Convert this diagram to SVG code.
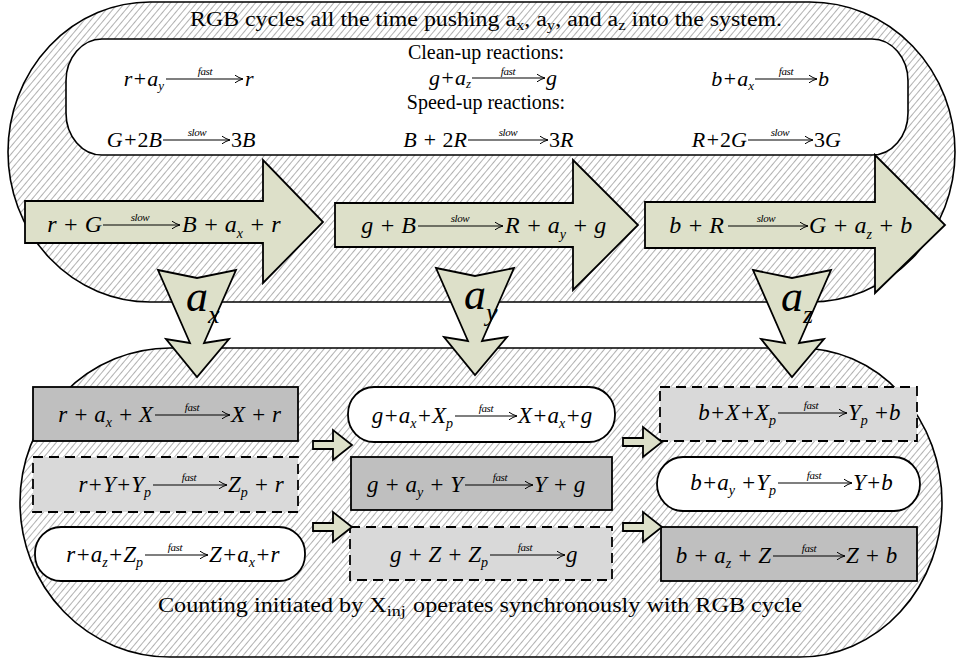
<svg xmlns="http://www.w3.org/2000/svg" width="960" height="664" viewBox="0 0 960 664">
<defs>
<pattern id="hatch" patternUnits="userSpaceOnUse" width="5" height="5" patternTransform="rotate(40)">
<rect width="5" height="5" fill="#fff"/>
<line x1="2.5" y1="0" x2="2.5" y2="5" stroke="#a8a8a8" stroke-width="0.9"/>
</pattern>
<marker id="ah" markerUnits="userSpaceOnUse" markerWidth="12" markerHeight="12" refX="9" refY="5" orient="auto" overflow="visible">
<path d="M1,1.2 Q5,4 9,5 Q5,6 1,8.8" fill="none" stroke="#000" stroke-width="1"/>
</marker>
<path id="down" d="M-39,0 L0,8 L39,0 L7,73 L32,69 L0,107 L-31,69 L-7,73 Z"/>
<path id="sm" d="M0,-4 H20 V-15 L39,0 L20,15 V4 H0 Z"/>
</defs>
<style>
.shape{fill:url(#hatch);stroke:#000;stroke-width:1.6}
.blk{fill:#dde0c9;stroke:#000;stroke-width:1.8}
.box{stroke:#000;stroke-width:1.8}
.dark{fill:#bfbfbf}
.light{fill:#d9d9d9;stroke-dasharray:10 6}
.white{fill:#fff}
.eq{font-family:"Liberation Serif",serif;font-style:italic;fill:#000}
.e22{font-size:22px}
.e23{font-size:23px}
.e24{font-size:24px}
.s13{font-size:13px}
.s14{font-size:14px}
.up{font-style:normal}
.rm{font-family:"Liberation Serif",serif;font-size:20px;fill:#000}
.lbl{font-family:"Liberation Serif",serif;font-style:italic;font-size:11px;text-anchor:middle;letter-spacing:-0.4px}
.ar{stroke:#000;stroke-width:1.1;fill:none;marker-end:url(#ah)}
</style>

<g id="rgb-cycle">
<path class="shape" d="M150,2 H810 A145,150 0 0 1 810,302 H150 A142,150 0 0 1 150,2 Z"/>
<text class="rm" x="190" y="26" font-size="23" textLength="592" lengthAdjust="spacingAndGlyphs">RGB cycles all the time pushing a<tspan font-size="14" dy="4">x</tspan><tspan dy="-4">, a</tspan><tspan font-size="14" dy="4">y</tspan><tspan dy="-4">, and a</tspan><tspan font-size="14" dy="4">z</tspan><tspan dy="-4"> into the system.</tspan></text>
</g>

<g id="reactions-box">
<rect class="white" x="66" y="39" width="842" height="116" rx="36" ry="42" stroke="#000" stroke-width="1.6"/>
<text class="rm" x="486" y="59" text-anchor="middle">Clean-up reactions:</text>
<text class="rm" x="486" y="109" text-anchor="middle">Speed-up reactions:</text>
<text class="eq e22" x="164" y="86" text-anchor="end">r+a<tspan class="s13" dy="4">y</tspan></text>
<line class="ar" x1="166" y1="79" x2="243" y2="79"/>
<text class="lbl" x="205" y="75">fast</text>
<text class="eq e22" x="245" y="86">r</text>
<text class="eq e22" x="162" y="147" text-anchor="end">G+<tspan class="up">2</tspan>B</text>
<line class="ar" x1="163" y1="140" x2="230" y2="140"/>
<text class="lbl" x="197" y="136">slow</text>
<text class="eq e22" x="231" y="147"><tspan class="up">3</tspan>B</text>
<text class="eq e22" x="471" y="85" text-anchor="end">g+a<tspan class="s13" dy="3">z</tspan></text>
<line class="ar" x1="472" y1="78" x2="545" y2="78"/>
<text class="lbl" x="508" y="75">fast</text>
<text class="eq e22" x="546" y="85">g</text>
<text class="eq e22" x="467" y="147" text-anchor="end">B + <tspan class="up">2</tspan>R</text>
<line class="ar" x1="468" y1="140" x2="548" y2="140"/>
<text class="lbl" x="508" y="136">slow</text>
<text class="eq e22" x="549" y="147"><tspan class="up">3</tspan>R</text>
<text class="eq e22" x="754" y="86" text-anchor="end">b+a<tspan class="s13" dy="4">x</tspan></text>
<line class="ar" x1="755" y1="79" x2="817" y2="79"/>
<text class="lbl" x="786" y="75">fast</text>
<text class="eq e22" x="818" y="86">b</text>
<text class="eq e22" x="747" y="147" text-anchor="end">R+<tspan class="up">2</tspan>G</text>
<line class="ar" x1="748" y1="140" x2="813" y2="140"/>
<text class="lbl" x="780" y="136">slow</text>
<text class="eq e22" x="814" y="147"><tspan class="up">3</tspan>G</text>
</g>

<g id="step-r">
<path class="blk" d="M25,201 H263 V160 L323,222 L263,283 V243 H25 Z"/>
<text class="eq e24" x="102" y="232" text-anchor="end">r + G</text>
<line class="ar" x1="103" y1="225" x2="180" y2="225"/>
<text class="lbl" x="140" y="221">slow</text>
<text class="eq e24" x="182" y="232">B + a<tspan class="s14" dy="6">x</tspan><tspan dy="-6"> + r</tspan></text>
</g>

<g id="step-g">
<path class="blk" d="M335,203 H573 V160 L638,225 L573,290 V247 H335 Z"/>
<text class="eq e24" x="416" y="233" text-anchor="end">g + B</text>
<line class="ar" x1="418" y1="226" x2="503" y2="226"/>
<text class="lbl" x="460" y="222">slow</text>
<text class="eq e24" x="505" y="233">R + a<tspan class="s14" dy="6">y</tspan><tspan dy="-6"> + g</tspan></text>
</g>

<g id="step-b">
<path class="blk" d="M645,202 H875 V155 L945,225 L875,293 V248 H645 Z"/>
<text class="eq e24" x="724" y="233" text-anchor="end">b + R</text>
<line class="ar" x1="728" y1="226" x2="808" y2="226"/>
<text class="lbl" x="766" y="222">slow</text>
<text class="eq e24" x="809" y="233">G + a<tspan class="s14" dy="6">z</tspan><tspan dy="-6"> + b</tspan></text>
</g>

<g id="counter">
<path class="shape" d="M170,348 H800 A142,154.5 0 0 1 942,502.5 A142,154.5 0 0 1 800,657 H170 A150,154.5 0 0 1 20,502.5 A150,154.5 0 0 1 170,348 Z"/>
<text class="rm" x="158" y="612" font-size="24" textLength="644" lengthAdjust="spacingAndGlyphs">Counting initiated by X<tspan font-size="15" dy="4">inj</tspan><tspan dy="-4" dx="6">operates synchronously with RGB cycle</tspan></text>
</g>

<g id="r1">
<rect class="box dark" x="33" y="387" width="265" height="54"/>
<text class="eq e23" x="153" y="422" text-anchor="end">r + a<tspan class="s14" dy="5">x</tspan><tspan dy="-5"> + X</tspan></text>
<line class="ar" x1="155" y1="415" x2="230" y2="415"/>
<text class="lbl" x="192" y="411">fast</text>
<text class="eq e23" x="231" y="422">X + r</text>
</g>
<g id="r2">
<rect class="box light" x="33" y="457" width="265" height="55"/>
<text class="eq e23" x="151" y="492" text-anchor="end">r+Y+Y<tspan class="s14" dy="5">p</tspan></text>
<line class="ar" x1="153" y1="485" x2="227" y2="485"/>
<text class="lbl" x="189" y="481">fast</text>
<text class="eq e23" x="228" y="492">Z<tspan class="s14" dy="5">p</tspan><tspan dy="-5"> + r</tspan></text>
</g>
<g id="r3">
<rect class="box white" x="35" y="527" width="270" height="54" rx="26" ry="26"/>
<text class="eq e23" x="143" y="562" text-anchor="end">r+a<tspan class="s14" dy="5">z</tspan><tspan dy="-5">+Z</tspan><tspan class="s14" dy="5">p</tspan></text>
<line class="ar" x1="145" y1="555" x2="208" y2="555"/>
<text class="lbl" x="175" y="551">fast</text>
<text class="eq e23" x="209" y="562">Z+a<tspan class="s14" dy="5">x</tspan><tspan dy="-5">+r</tspan></text>
</g>

<g id="g1">
<rect class="box white" x="348" y="387" width="267" height="55" rx="26" ry="27"/>
<text class="eq e23" x="453" y="423" text-anchor="end">g+a<tspan class="s14" dy="5">x</tspan><tspan dy="-5">+X</tspan><tspan class="s14" dy="5">p</tspan></text>
<line class="ar" x1="455" y1="416" x2="517" y2="416"/>
<text class="lbl" x="486" y="412">fast</text>
<text class="eq e23" x="518" y="423">X+a<tspan class="s14" dy="5">x</tspan><tspan dy="-5">+g</tspan></text>
</g>
<g id="g2">
<rect class="box dark" x="351" y="457" width="261" height="53"/>
<text class="eq e23" x="463" y="492" text-anchor="end">g + a<tspan class="s14" dy="5">y</tspan><tspan dy="-5"> + Y</tspan></text>
<line class="ar" x1="465" y1="485" x2="533" y2="485"/>
<text class="lbl" x="500" y="481">fast</text>
<text class="eq e23" x="534" y="492">Y + g</text>
</g>
<g id="g3">
<rect class="box light" x="350" y="527" width="262" height="53"/>
<text class="eq e23" x="488" y="562" text-anchor="end">g + Z + Z<tspan class="s14" dy="5">p</tspan></text>
<line class="ar" x1="490" y1="555" x2="565" y2="555"/>
<text class="lbl" x="525" y="551">fast</text>
<text class="eq e23" x="566" y="562">g</text>
</g>

<g id="b1">
<rect class="box light" x="660" y="387" width="257" height="54"/>
<text class="eq e23" x="776" y="420" text-anchor="end">b+X+X<tspan class="s14" dy="5">p</tspan></text>
<line class="ar" x1="778" y1="413" x2="847" y2="413"/>
<text class="lbl" x="811" y="409">fast</text>
<text class="eq e23" x="848" y="420">Y<tspan class="s14" dy="5">p</tspan><tspan dy="-5"> +b</tspan></text>
</g>
<g id="b2">
<rect class="box white" x="657" y="457" width="263" height="54" rx="26" ry="27"/>
<text class="eq e23" x="776" y="490" text-anchor="end">b+a<tspan class="s14" dy="5">y</tspan><tspan dy="-5"> +Y</tspan><tspan class="s14" dy="5">p</tspan></text>
<line class="ar" x1="778" y1="483" x2="852" y2="483"/>
<text class="lbl" x="814" y="479">fast</text>
<text class="eq e23" x="853" y="490">Y+b</text>
</g>
<g id="b3">
<rect class="box dark" x="661" y="527" width="256" height="54"/>
<text class="eq e23" x="771" y="563" text-anchor="end">b + a<tspan class="s14" dy="5">z</tspan><tspan dy="-5"> + Z</tspan></text>
<line class="ar" x1="773" y1="556" x2="845" y2="556"/>
<text class="lbl" x="809" y="552">fast</text>
<text class="eq e23" x="846" y="563">Z + b</text>
</g>

<g id="connectors">
<use href="#down" class="blk" x="197" y="270"/>
<use href="#down" class="blk" x="475" y="268"/>
<use href="#down" class="blk" x="792" y="270"/>
<text class="eq" x="186" y="311" font-size="44">a<tspan font-size="26" dy="12">x</tspan></text>
<text class="eq" x="464" y="309" font-size="44">a<tspan font-size="26" dy="12">y</tspan></text>
<text class="eq" x="781" y="311" font-size="44">a<tspan font-size="26" dy="12">z</tspan></text>
<use href="#sm" class="blk" x="313" y="445"/>
<use href="#sm" class="blk" x="313" y="527"/>
<use href="#sm" class="blk" x="623" y="442"/>
<use href="#sm" class="blk" x="623" y="527"/>
</g>
</svg>
